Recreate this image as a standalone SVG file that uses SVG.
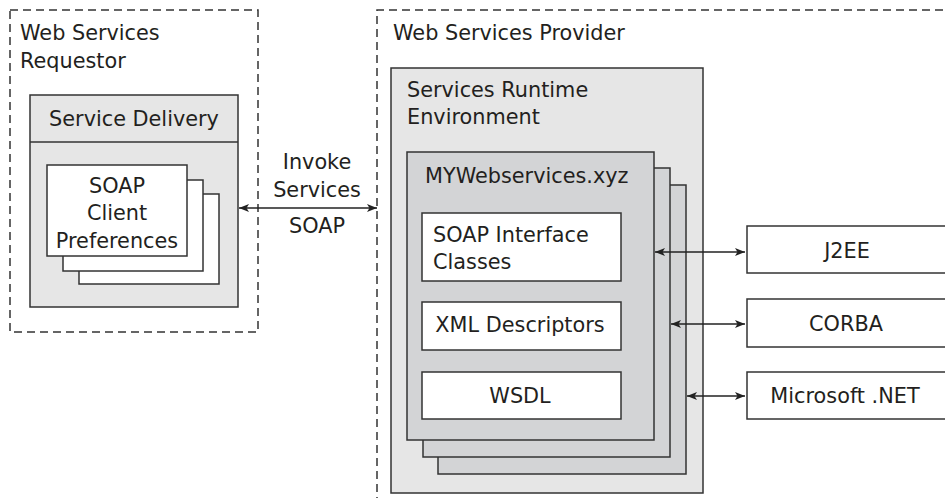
<svg xmlns="http://www.w3.org/2000/svg" width="945" height="498" viewBox="0 0 945 498">
<style>
text{font-family:"DejaVu Sans","Open Sans","Liberation Sans",sans-serif;font-size:20.8px;fill:#231f20}
.dash{fill:none;stroke:#333;stroke-width:1.5;stroke-dasharray:8 5}
.lt{fill:#e6e6e6;stroke:#333;stroke-width:1.5}
.md{fill:#d3d4d6;stroke:#333;stroke-width:1.5}
.wh{fill:#fff;stroke:#333;stroke-width:1.5}
.c{text-anchor:middle}
.conn{stroke:#222;stroke-width:1.3;fill:none;marker-start:url(#ah);marker-end:url(#ah)}
</style>
<defs>
<marker id="ah" viewBox="0 0 10 8" refX="10" refY="4" markerWidth="10" markerHeight="8" markerUnits="userSpaceOnUse" orient="auto-start-reverse">
<path d="M0,0 L10,4 L0,8 L2.5,4 Z" fill="#222"/>
</marker>
</defs>
<rect width="945" height="498" fill="#fff"/>

<g id="requestor">
<rect class="dash" x="10" y="10" width="248" height="322"/>
<text x="20" y="40">Web Services</text>
<text x="20" y="68">Requestor</text>
</g>

<g id="service-delivery">
<rect class="lt" x="30" y="95" width="208" height="212"/>
<line x1="30" y1="142" x2="238" y2="142" stroke="#333" stroke-width="1.5"/>
<text class="c" x="134" y="126">Service Delivery</text>
</g>

<g id="soap-client-preferences">
<rect class="wh" x="79" y="194" width="140" height="90"/>
<rect class="wh" x="63" y="180" width="140" height="91"/>
<rect class="wh" x="47" y="165" width="140" height="91"/>
<text class="c" x="117" y="193">SOAP</text>
<text class="c" x="117" y="220">Client</text>
<text class="c" x="117" y="248">Preferences</text>
</g>

<g id="invoke-label">
<text class="c" x="317" y="169">Invoke</text>
<text class="c" x="317" y="197">Services</text>
<text class="c" x="317" y="233">SOAP</text>
</g>

<g id="provider">
<path class="dash" d="M377,505 V10 H950"/>
<text x="393" y="40">Web Services Provider</text>
</g>

<g id="runtime">
<rect class="lt" x="391" y="68" width="312" height="425"/>
<text x="407" y="97">Services Runtime</text>
<text x="407" y="124">Environment</text>
</g>

<g id="mywebservices">
<rect class="md" x="438" y="185" width="248" height="289"/>
<rect class="md" x="423" y="168" width="247" height="289"/>
<rect class="md" x="407" y="152" width="247" height="288"/>
<text x="425" y="183">MYWebservices.xyz</text>
</g>

<g id="soap-interface">
<rect class="wh" x="422" y="213" width="199" height="68"/>
<text x="433" y="242">SOAP Interface</text>
<text x="433" y="269">Classes</text>
</g>

<g id="xml-descriptors">
<rect class="wh" x="422" y="302" width="199" height="48"/>
<text class="c" x="520" y="332">XML Descriptors</text>
</g>

<g id="wsdl">
<rect class="wh" x="422" y="372" width="199" height="47"/>
<text class="c" x="520" y="403">WSDL</text>
</g>

<g id="j2ee">
<rect class="wh" x="747" y="226" width="210" height="47"/>
<text class="c" x="847" y="258">J2EE</text>
</g>

<g id="corba">
<rect class="wh" x="747" y="299" width="210" height="48"/>
<text class="c" x="846" y="331">CORBA</text>
</g>

<g id="dotnet">
<rect class="wh" x="747" y="372" width="210" height="47"/>
<text class="c" x="845" y="403">Microsoft .NET</text>
</g>

<g id="connectors">
<line class="conn" x1="239" y1="208" x2="377" y2="208"/>
<line class="conn" x1="655" y1="252" x2="745" y2="252"/>
<line class="conn" x1="671" y1="324" x2="745" y2="324"/>
<line class="conn" x1="687" y1="396" x2="745" y2="396"/>
</g>
</svg>
